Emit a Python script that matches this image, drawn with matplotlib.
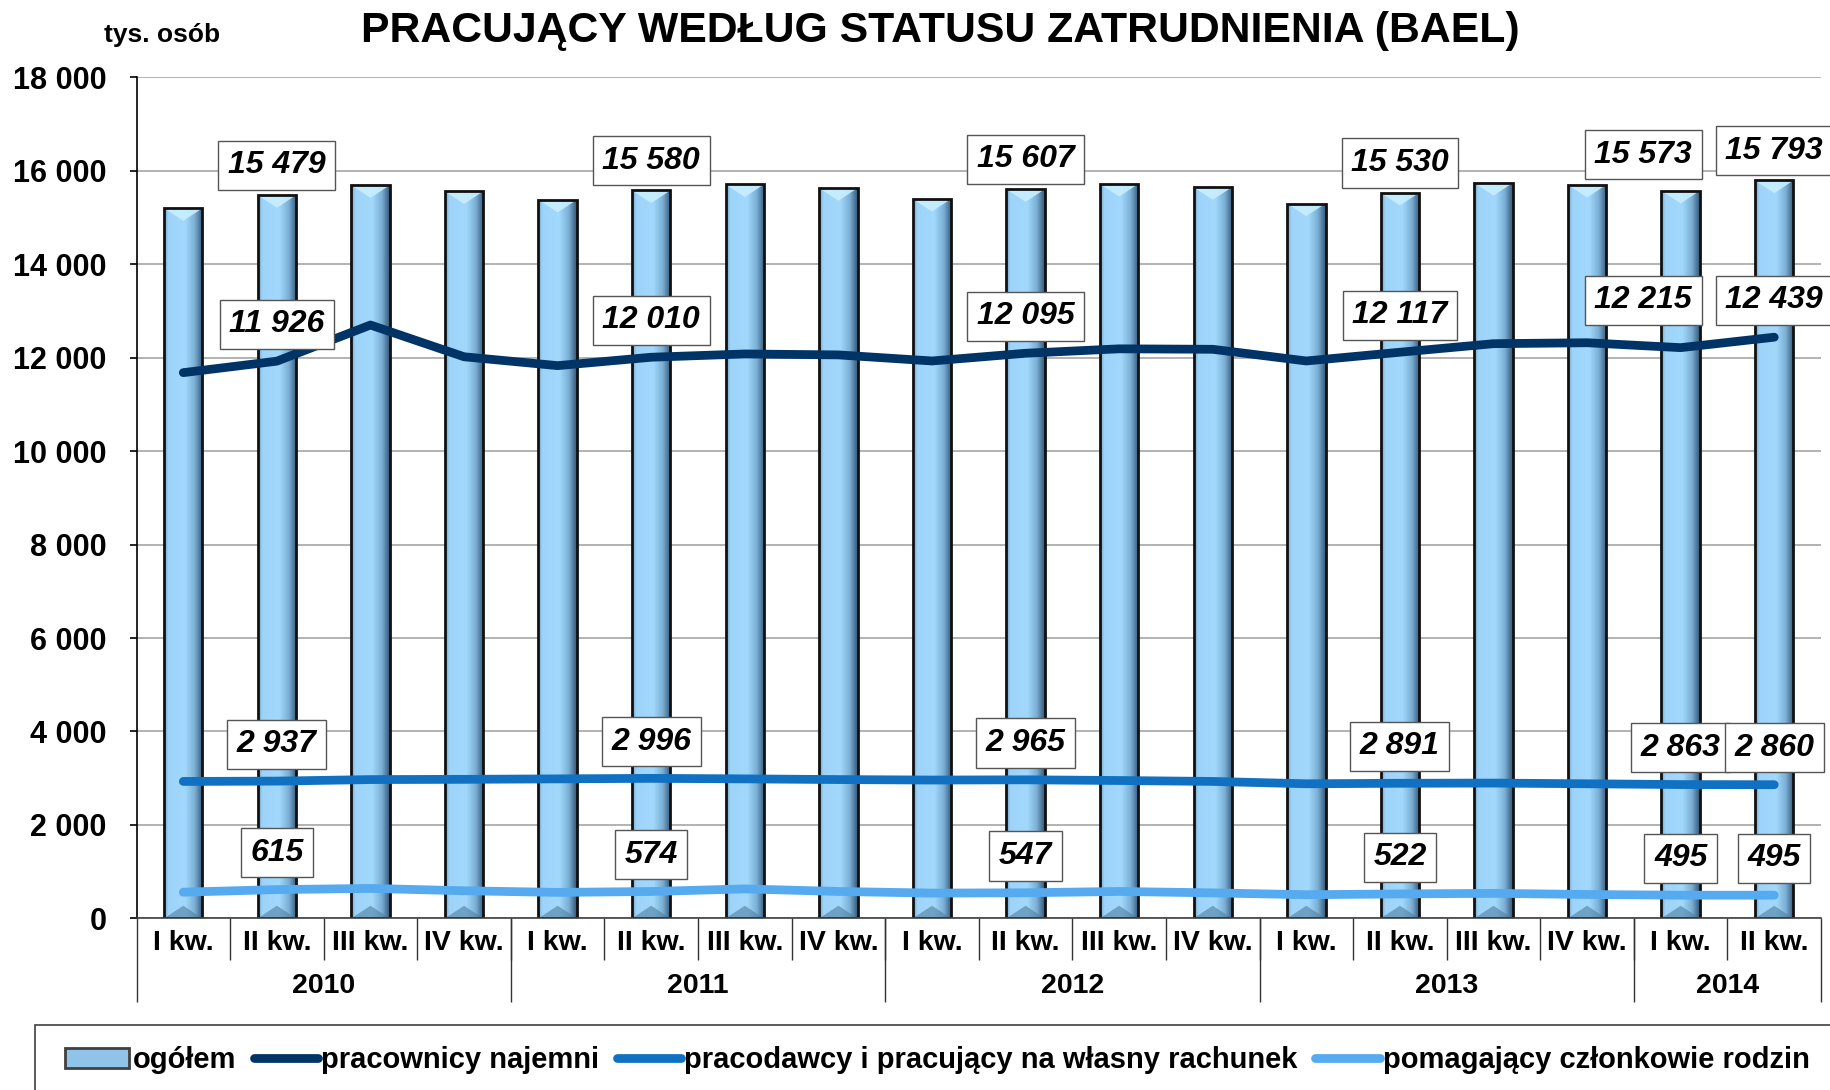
import numpy as np
import matplotlib.pyplot as plt
from matplotlib.colors import LinearSegmentedColormap
from matplotlib.patches import Polygon, Rectangle, Patch
from matplotlib.lines import Line2D

plt.rcParams['font.family'] = ['Liberation Sans', 'DejaVu Sans']
plt.rcParams['font.weight'] = 'bold'

# kwartały BAEL 2010 - II kw. 2014, tys. osób
quarters = ['I kw.', 'II kw.', 'III kw.', 'IV kw.'] * 4 + ['I kw.', 'II kw.']
years = ['2010', '2011', '2012', '2013', '2014']
year_len = [4, 4, 4, 4, 2]

ogolem = [15200, 15479, 15690, 15560, 15380, 15580, 15710, 15630, 15400,
          15607, 15720, 15650, 15300, 15530, 15740, 15700, 15573, 15793]
najemni = [11680, 11926, 12700, 12020, 11830, 12010, 12080, 12060, 11930,
           12095, 12190, 12180, 11930, 12117, 12300, 12320, 12215, 12439]
pracodawcy = [2930, 2937, 2970, 2975, 2985, 2996, 2985, 2970, 2960,
              2965, 2950, 2930, 2880, 2891, 2895, 2880, 2863, 2860]
pomagajacy = [560, 615, 640, 590, 555, 574, 630, 575, 540,
              547, 575, 545, 505, 522, 535, 510, 495, 495]

labelled = [1, 5, 9, 13, 16, 17]  # II kw. kazdego roku + 2014

names = ['ogółem', 'pracownicy najemni',
         'pracodawcy i pracujący na własny rachunek',
         'pomagający członkowie rodzin']
c_najemni = '#003366'
c_pracodawcy = '#1071c2'
c_pomagajacy = '#55aaf0'


def fmt(v):
    return f"{v:,}".replace(',', ' ')


fig = plt.figure(figsize=(18.3, 10.9), dpi=100)
ax = fig.add_axes([0.0746, 0.1575, 0.9205, 0.7715])
x = np.arange(len(quarters))
bw = 0.41

# slupki z cieniowaniem
bars = ax.bar(x, ogolem, width=bw, color='#a0d6fa', zorder=2)
shade = LinearSegmentedColormap.from_list(
    'shade', [(0, '#6d9cbc'), (0.1, '#9ed4f9'), (0.55, '#a2d8fc'),
              (0.8, '#7aaed4'), (1, '#36597a')])
grad = np.linspace(0, 1, 64).reshape(1, -1)
bevel = 270
for b in bars:
    x0, w, h = b.get_x(), b.get_width(), b.get_height()
    im = ax.imshow(grad, extent=[x0, x0 + w, 0, h], aspect='auto',
                   cmap=shade, zorder=2.1, interpolation='bicubic')
    im.set_clip_path(b)
    xc = x0 + w / 2
    ax.add_patch(Polygon([(x0, h), (x0 + w, h), (xc, h - bevel)],
                         closed=True, fc='#c8efff', ec='none', alpha=0.9, zorder=2.2))
    ax.add_patch(Polygon([(x0, 0), (x0 + w, 0), (xc, bevel)],
                         closed=True, fc='#4f7f9f', ec='none', alpha=0.6, zorder=2.2))
ax.bar(x, ogolem, width=bw, fill=False, edgecolor='#111111', linewidth=2.0, zorder=2.3)

# linie
for vals, col in [(najemni, c_najemni), (pracodawcy, c_pracodawcy), (pomagajacy, c_pomagajacy)]:
    ax.plot(x, vals, color=col, lw=6.3, solid_capstyle='round',
            solid_joinstyle='round', zorder=3)

# etykiety wartosci; dwie przy I kw. 2014 przesuniete w lewo
box = dict(boxstyle='square,pad=0.3', fc='white', ec='#555555', lw=1)
moved = {('ogolem', 16): (-27, 26), ('najemni', 16): (-27, 34)}
series = [('ogolem', ogolem, 21.5), ('najemni', najemni, 26.5),
          ('pracodawcy', pracodawcy, 26.5), ('pomagajacy', pomagajacy, 26.5)]
for key, vals, dy in series:
    for i in labelled:
        off = moved.get((key, i), (0, dy))
        ax.annotate(fmt(vals[i]), (x[i], vals[i]), xytext=off,
                    textcoords='offset points', ha='center', va='center',
                    fontsize=23, fontstyle='italic', fontweight='bold',
                    bbox=box, zorder=5, annotation_clip=False)

ax.set_xlim(-0.5, 17.5)
ax.set_ylim(0, 18000)
yt = np.arange(0, 18001, 2000)
ax.set_yticks(yt)
ax.set_yticklabels([fmt(v) for v in yt], fontsize=22, fontweight='bold')
ax.tick_params(axis='y', direction='out', length=5, width=1.2, pad=16.5)
ax.set_xticks([])
ax.grid(axis='y', color='#a6a6a6', lw=1.2)
ax.set_axisbelow(True)
for s in ['top', 'right']:
    ax.spines[s].set_visible(False)
ax.spines['left'].set_linewidth(1.2)
ax.spines['bottom'].set_linewidth(1.2)
ax.spines['bottom'].set_color('#404040')

# dwupoziomowa os X: kwartaly i lata
trans = ax.get_xaxis_transform()
for i, q in enumerate(quarters):
    ax.text(i, -0.0297, q, transform=trans, ha='center', va='center', fontsize=20.5)
ax.vlines(x[1:] - 0.5, -0.05, 0, transform=trans, colors='#333333', lw=1, clip_on=False)
edges = np.cumsum([0] + year_len) - 0.5
ax.vlines(edges, -0.0999, 0, transform=trans, colors='#333333', lw=1, clip_on=False)
for yr, a, b in zip(years, edges[:-1], edges[1:]):
    ax.text((a + b) / 2, -0.0809, yr, transform=trans, ha='center', va='center', fontsize=20.5)

fig.text(0.514, 0.972, 'PRACUJĄCY WEDŁUG STATUSU ZATRUDNIENIA (BAEL)',
         ha='center', va='center', fontsize=30.8)
fig.text(0.057, 0.968, 'tys. osób', ha='left', va='center', fontsize=19)

# legenda
fig.add_artist(Rectangle((35 / 1830, -0.1), 1.2, 0.1 + 65 / 1090, transform=fig.transFigure,
                         fill=False, ec='#404040', lw=1.2))
handles = [Patch(facecolor='#8fc4e8', edgecolor='#404040', lw=2),
           Line2D([], [], color=c_najemni, lw=6.3, solid_capstyle='round'),
           Line2D([], [], color=c_pracodawcy, lw=6.3, solid_capstyle='round'),
           Line2D([], [], color=c_pomagajacy, lw=6.3, solid_capstyle='round')]
fig.legend(handles, names, loc='center left', bbox_to_anchor=(65 / 1830, 1 - 1060 / 1090),
           ncol=4, frameon=False, prop=dict(size=21, weight='bold'),
           handlelength=2.2, handletextpad=0.12, columnspacing=0.6,
           borderaxespad=0, borderpad=0)

plt.savefig('out.png', dpi=100)
